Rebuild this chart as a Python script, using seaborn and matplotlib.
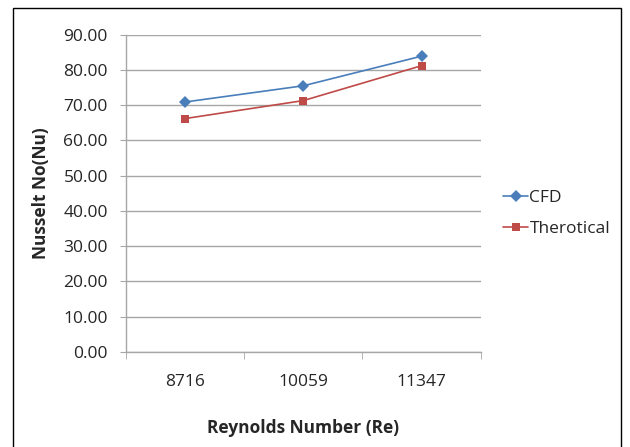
import matplotlib
matplotlib.use("Agg")
import matplotlib.pyplot as plt
import seaborn as sns
import pandas as pd
from matplotlib.patches import Rectangle
from matplotlib.ticker import FormatStrFormatter

reynolds = ["8716", "10059", "11347"]
cfd = [70.9, 75.5, 83.9]
theoretical = [66.2, 71.3, 81.2]
series_names = ["CFD", "Therotical"]

df = pd.DataFrame({
    "Re": reynolds * 2,
    "Nu": cfd + theoretical,
    "Series": [series_names[0]] * 3 + [series_names[1]] * 3,
})

sns.set_style("white")
plt.rcParams["font.family"] = ["Open Sans", "DejaVu Sans"]

fig = plt.figure(figsize=(6.3, 4.47), dpi=100)
ax = fig.add_axes([0.2, 0.2125, 0.563, 0.71])

sns.lineplot(data=df, x="Re", y="Nu", hue="Series", style="Series",
             palette={"CFD": "#4a7ebb", "Therotical": "#be4b48"},
             markers={"CFD": "D", "Therotical": "s"}, dashes=False,
             markersize=6, linewidth=1.2, markeredgewidth=0, ax=ax, sort=False)

ax.set_ylim(0, 90)
ax.set_yticks(range(0, 91, 10))
ax.yaxis.set_major_formatter(FormatStrFormatter("%.2f"))
ax.set_xlim(-0.5, 2.5)
ax.set_xticks([0, 1, 2])
ax.set_xticklabels(reynolds)
ax.grid(axis="y", color="#a6a6a6", linewidth=1)
ax.set_axisbelow(True)
for s in ["top", "right"]:
    ax.spines[s].set_visible(False)
for s in ["left", "bottom"]:
    ax.spines[s].set_color("#a6a6a6")
    ax.spines[s].set_linewidth(1)
ax.tick_params(axis="y", left=True, length=4, color="#a6a6a6", labelsize=12.5, pad=9)
ax.tick_params(axis="x", bottom=False, labelsize=12.5, pad=12)
# category boundary ticks
ax.set_xticks([-0.5, 0.5, 1.5, 2.5], minor=True)
ax.tick_params(axis="x", which="minor", bottom=True, length=5, color="#a6a6a6")

ax.set_xlabel("Reynolds Number (Re)", fontsize=12.5, fontweight="bold", labelpad=21)
ax.set_ylabel("Nusselt No(Nu)", fontsize=12.5, fontweight="bold", labelpad=10)

ax.legend(title=None, loc="center left", bbox_to_anchor=(1.02, 0.436), frameon=False,
          fontsize=12.5, handlelength=1.4, handletextpad=0.1, labelspacing=0.85)

fig.patches.append(Rectangle((0.0206, -0.01), 0.965, 0.992, transform=fig.transFigure,
                             fill=False, edgecolor="black", linewidth=1))

fig.savefig("out.png", dpi=100)
